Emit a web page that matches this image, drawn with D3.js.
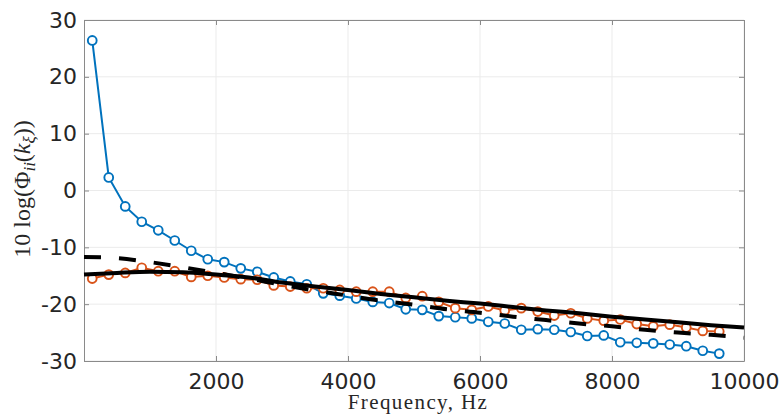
<!DOCTYPE html>
<html>
<head>
<meta charset="utf-8">
<script src="https://cdn.jsdelivr.net/npm/d3@7"></script>
<style>
  html, body { margin: 0; padding: 0; background: #ffffff; }
  svg { display: block; }
</style>
</head>
<body>
<svg id="chart" width="782" height="417"></svg>
<script>
// ---------------- data ----------------
const freqs = [125, 375, 625, 875, 1125, 1375, 1625, 1875, 2125, 2375,
  2625, 2875, 3125, 3375, 3625, 3875, 4125, 4375, 4625, 4875,
  5125, 5375, 5625, 5875, 6125, 6375, 6625, 6875, 7125, 7375,
  7625, 7875, 8125, 8375, 8625, 8875, 9125, 9375, 9625];

const blueValues = [26.4, 2.3, -2.8, -5.5, -7.0, -8.8, -10.6, -12.1, -12.6, -13.7,
  -14.3, -15.3, -16.0, -16.5, -18.1, -18.5, -19.0, -19.6, -19.8, -20.9,
  -21.0, -22.1, -22.3, -22.5, -23.1, -23.4, -24.5, -24.4, -24.5, -24.9,
  -25.6, -25.5, -26.7, -26.8, -26.9, -27.1, -27.4, -28.2, -28.7];

const orangeValues = [-15.5, -14.8, -14.5, -13.6, -14.2, -14.2, -15.2, -15.0, -15.3, -15.6,
  -15.7, -16.7, -16.9, -17.2, -17.2, -17.5, -17.8, -17.8, -17.8, -18.9,
  -18.6, -19.6, -20.7, -21.0, -20.4, -21.1, -20.7, -21.3, -22.0, -21.6,
  -22.5, -22.9, -22.7, -23.5, -23.9, -23.6, -24.1, -24.7, -24.8];

const modelFreqs = [0, 500, 1000, 1500, 2000, 2500, 3000, 3500, 4000, 4500, 5000,
  5500, 6000, 6500, 7000, 7500, 8000, 8500, 9000, 9500, 10000];

const solidValues = [-14.8, -14.5, -14.3, -14.4, -14.8, -15.3, -16.2, -16.9, -17.5, -18.2, -18.8,
  -19.4, -19.9, -20.5, -21.1, -21.6, -22.2, -22.7, -23.2, -23.7, -24.1];

const dashedValues = [-11.7, -11.9, -12.6, -13.5, -14.5, -15.5, -16.6, -17.6, -18.5, -19.4, -20.1,
  -20.9, -21.5, -22.2, -22.8, -23.4, -23.9, -24.5, -25.0, -25.4, -25.9];

const xTicks = [2000, 4000, 6000, 8000, 10000];
const yTicks = [-30, -20, -10, 0, 10, 20, 30];

// ---------------- layout ----------------
const svg = d3.select("#chart");
const plotL = 84, plotR = 744, plotT = 20, plotB = 361;

const x = d3.scaleLinear().domain([0, 10000]).range([plotL, plotR]);
const y = d3.scaleLinear().domain([-30, 30]).range([plotB, plotT]);

const axisColor = "#8a8a8a";
const textColor = "#262626";
const gridColor = "#ebebeb";

// grid
const grid = svg.append("g");
grid.selectAll(".gx").data(xTicks).join("line")
  .attr("x1", d => x(d)).attr("x2", d => x(d))
  .attr("y1", plotT).attr("y2", plotB)
  .attr("stroke", gridColor).attr("stroke-width", 1);
grid.selectAll(".gy").data(yTicks).join("line")
  .attr("x1", plotL).attr("x2", plotR)
  .attr("y1", d => y(d)).attr("y2", d => y(d))
  .attr("stroke", gridColor).attr("stroke-width", 1);

// axes using d3 axis generators (inward ticks)
const fontFam = "'DejaVu Sans', sans-serif";
const xAxis = svg.append("g").attr("transform", `translate(0,${plotB})`)
  .call(d3.axisBottom(x).tickValues(xTicks).tickFormat(d3.format("d")).tickSizeInner(-5).tickSizeOuter(0).tickPadding(12));
const xAxisTop = svg.append("g").attr("transform", `translate(0,${plotT})`)
  .call(d3.axisTop(x).tickValues(xTicks).tickFormat("").tickSizeInner(-5).tickSizeOuter(0));
const yAxis = svg.append("g").attr("transform", `translate(${plotL},0)`)
  .call(d3.axisLeft(y).tickValues(yTicks).tickFormat(d => String(d)).tickSizeInner(-5).tickSizeOuter(0).tickPadding(7));
const yAxisRight = svg.append("g").attr("transform", `translate(${plotR},0)`)
  .call(d3.axisRight(y).tickValues(yTicks).tickFormat("").tickSizeInner(-5).tickSizeOuter(0));

[xAxis, xAxisTop, yAxis, yAxisRight].forEach(g => {
  g.select(".domain").attr("stroke", axisColor).attr("stroke-width", 1);
  g.selectAll(".tick line").attr("stroke", axisColor).attr("stroke-width", 1);
  g.selectAll("text").attr("fill", textColor).attr("font-family", fontFam).attr("font-size", 22);
});

// series lines
const lineGen = d3.line().x(d => x(d[0])).y(d => y(d[1]));
const blueData = freqs.map((f, i) => [f, blueValues[i]]);
const orangeData = freqs.map((f, i) => [f, orangeValues[i]]);
const solidData = modelFreqs.map((f, i) => [f, solidValues[i]]);
const dashedData = modelFreqs.map((f, i) => [f, dashedValues[i]]);

function markerSeries(data, color) {
  const g = svg.append("g");
  g.append("path").datum(data)
    .attr("d", lineGen)
    .attr("fill", "none").attr("stroke", color).attr("stroke-width", 2);
  g.selectAll("circle").data(data).join("circle")
    .attr("cx", d => x(d[0])).attr("cy", d => y(d[1])).attr("r", 4.4)
    .attr("fill", "#ffffff").attr("stroke", color).attr("stroke-width", 1.9);
}
markerSeries(blueData, "#0072BD");
markerSeries(orangeData, "#D95319");

const smoothLine = d3.line().x(d => x(d[0])).y(d => y(d[1])).curve(d3.curveMonotoneX);
svg.append("path").datum(dashedData)
  .attr("d", smoothLine)
  .attr("fill", "none").attr("stroke", "#000").attr("stroke-width", 4)
  .attr("stroke-dasharray", "17,18");
svg.append("path").datum(solidData)
  .attr("d", smoothLine)
  .attr("fill", "none").attr("stroke", "#000").attr("stroke-width", 4);

// axis labels
svg.append("text")
  .attr("x", (plotL + plotR) / 2 + 4).attr("y", 409)
  .attr("text-anchor", "middle")
  .attr("font-family", "'Liberation Serif', 'DejaVu Serif', serif")
  .attr("font-size", 21)
  .attr("letter-spacing", 1.4)
  .attr("fill", textColor)
  .text("Frequency, Hz");

const yl = svg.append("text")
  .attr("transform", "translate(30,189) rotate(-90)")
  .attr("text-anchor", "middle")
  .attr("font-family", "'Liberation Serif', 'DejaVu Serif', serif")
  .attr("font-size", 24)
  .attr("fill", textColor);
yl.append("tspan").text("10 log(Φ");
yl.append("tspan").attr("font-style", "italic").attr("font-size", 17).attr("dy", 5).text("ii");
yl.append("tspan").attr("dy", -5).text("(");
yl.append("tspan").attr("font-style", "italic").text("k");
yl.append("tspan").attr("font-style", "italic").attr("font-size", 17).attr("dy", 5).text("ξ");
yl.append("tspan").attr("dy", -5).text("))");
</script>
</body>
</html>
